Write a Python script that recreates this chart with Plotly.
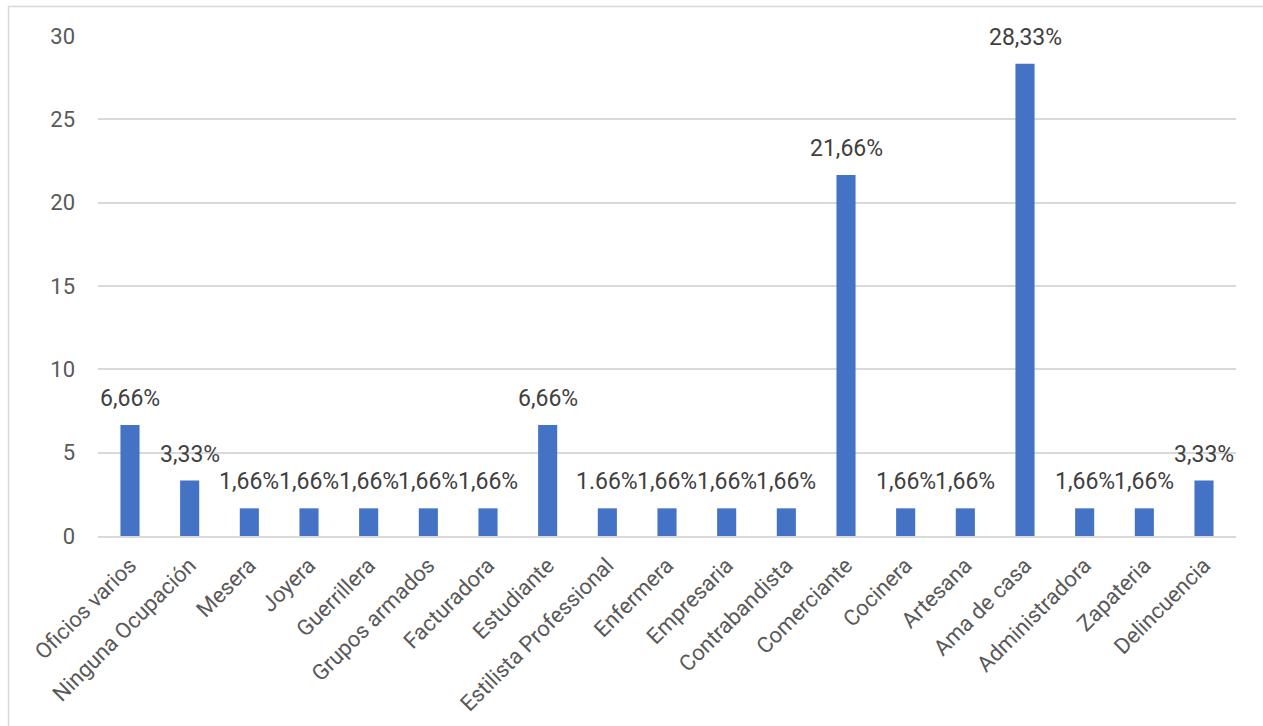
import plotly.graph_objects as go

categories = ["Oficios varios", "Ninguna Ocupación", "Mesera", "Joyera", "Guerrillera",
              "Grupos armados", "Facturadora", "Estudiante", "Estilista Professional",
              "Enfermera", "Empresaria", "Contrabandista", "Comerciante", "Cocinera",
              "Artesana", "Ama de casa", "Administradora", "Zapateria", "Delincuencia"]
values = [6.66, 3.33, 1.66, 1.66, 1.66, 1.66, 1.66, 6.66, 1.66, 1.66, 1.66, 1.66,
          21.66, 1.66, 1.66, 28.33, 1.66, 1.66, 3.33]
labels = ["6,66%", "3,33%", "1,66%", "1,66%", "1,66%", "1,66%", "1,66%", "6,66%", "1.66%",
          "1,66%", "1,66%", "1,66%", "21,66%", "1,66%", "1,66%", "28,33%", "1,66%", "1,66%", "3,33%"]
y_ticks = [0, 5, 10, 15, 20, 25, 30]

W, H = 1263, 726
L, R, T, B = 98, 27, 36, 190
pw, ph = W - L - R, H - T - B

def px_x(p):
    return (p - L) / pw

def px_y(p):
    return (H - B - p) / ph

FONT = "Roboto"

fig = go.Figure(go.Bar(
    x=categories, y=values,
    marker=dict(color="#4472C4", line=dict(width=0)),
))

for c, v, t in zip(categories, values, labels):
    fig.add_annotation(x=c, y=v, text=t, showarrow=False, yanchor="bottom",
                       yshift=11, font=dict(family=FONT, size=23, color="#404040"))

fig.update_layout(
    width=W, height=H,
    margin=dict(l=L, r=R, t=T, b=B),
    paper_bgcolor="white", plot_bgcolor="white",
    bargap=0.68,
    showlegend=False,
    font=dict(family=FONT, size=22, color="#595959"),
    xaxis=dict(tickangle=-45, showgrid=False, showline=True, linecolor="#d9d9d9",
               linewidth=1.5, ticks="", ticklabelstandoff=6, automargin=False,
               tickfont=dict(family=FONT, size=22, color="#595959")),
    yaxis=dict(range=[0, 30], tickvals=y_ticks, showgrid=True, gridcolor="#d9d9d9",
               gridwidth=1.5, zeroline=False, showline=False, ticks="",
               ticklabelstandoff=22, automargin=False,
               tickfont=dict(family=FONT, size=22, color="#595959")),
    shapes=[dict(type="rect", xref="paper", yref="paper",
                 x0=px_x(8.5), x1=px_x(1275), y0=px_y(6.5), y1=px_y(740),
                 line=dict(color="#d9d9d9", width=1.5), fillcolor="rgba(0,0,0,0)",
                 layer="below")],
)

fig.write_html("out.html")
